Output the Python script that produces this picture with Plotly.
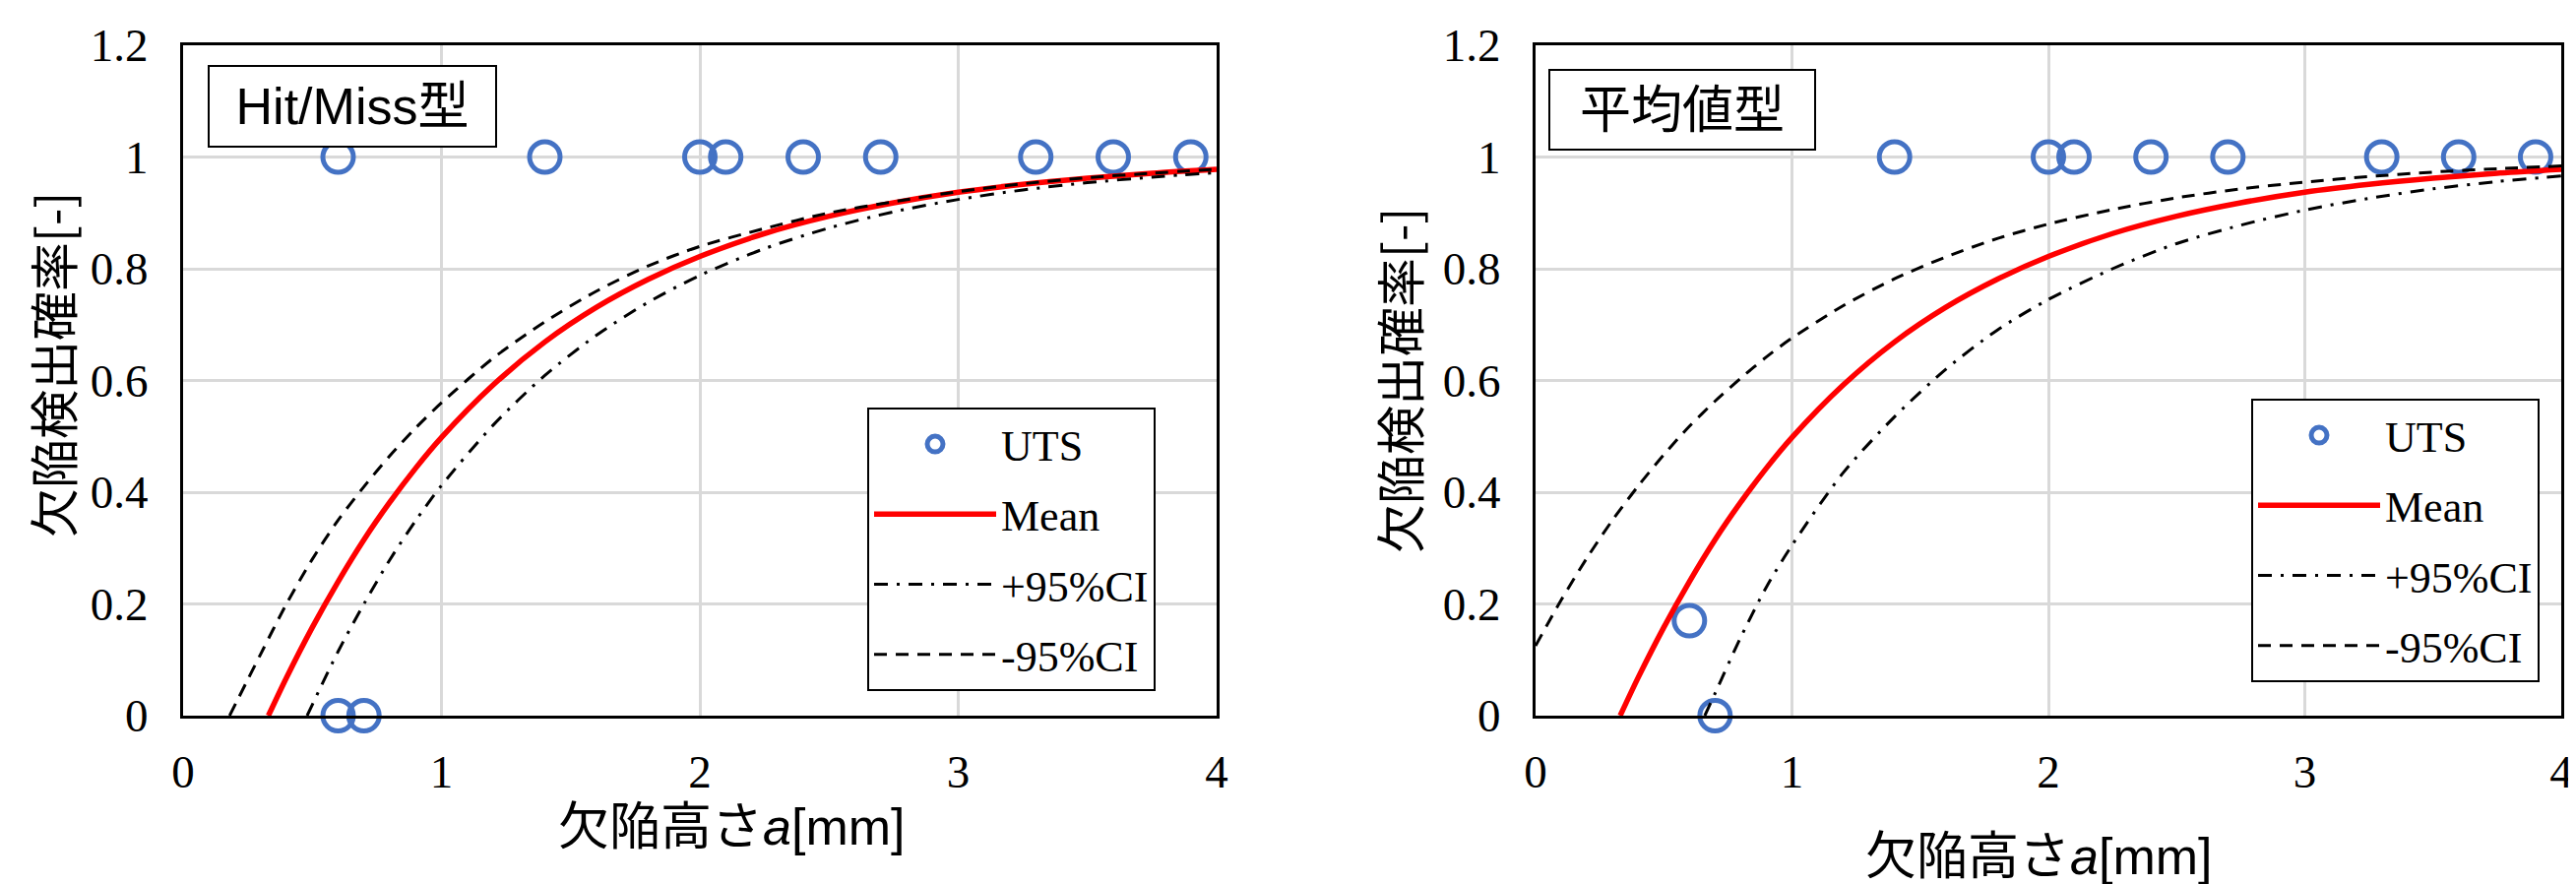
import plotly.graph_objects as go

# The page body has an 8px default margin, so the figure is laid out in
# reference-pixel coordinates shifted by OFF.
OFF = 8
W, H = 2617 - OFF, 898 - OFF


def PX(p):
    return (p - OFF) / W


def PY(p):
    return 1 - (p - OFF) / H


# ---------------- data ----------------
series_names = ["UTS", "Mean", "+95%CI", "-95%CI"]

# Hit/Miss panel
hm_uts_x = [0.6, 1.4, 2.0, 2.1, 2.4, 2.7, 3.3, 3.6, 3.9, 0.6, 0.7]
hm_uts_y = [1, 1, 1, 1, 1, 1, 1, 1, 1, 0, 0]

hm_mean_x = [0.33, 0.4, 0.5, 0.6, 0.7, 0.8, 0.9, 1.0, 1.2, 1.4, 1.6, 1.8, 2.0, 2.25, 2.5, 2.75, 3.0, 3.25, 3.5, 3.75, 4.0]
hm_mean_y = [0, 0.068, 0.158, 0.24, 0.315, 0.382, 0.443, 0.498, 0.592, 0.669, 0.731, 0.781, 0.822, 0.863, 0.894, 0.918, 0.937, 0.951, 0.962, 0.971, 0.978]

hm_plus_x = [0.48, 0.6, 0.7, 0.8, 0.9, 1.0, 1.2, 1.4, 1.6, 1.8, 2.0, 2.25, 2.5, 2.75, 3.0, 3.25, 3.5, 3.75, 4.0]
hm_plus_y = [0, 0.115, 0.2, 0.279, 0.349, 0.412, 0.52, 0.609, 0.681, 0.74, 0.788, 0.836, 0.873, 0.902, 0.924, 0.941, 0.954, 0.964, 0.972]

hm_minus_x = [0.18, 0.3, 0.4, 0.5, 0.6, 0.7, 0.8, 0.9, 1.0, 1.2, 1.4, 1.6, 1.8, 2.0, 2.25, 2.5, 2.75, 3.0, 3.25, 3.5, 3.75, 4.0]
hm_minus_y = [0, 0.11, 0.2, 0.28, 0.35, 0.41, 0.465, 0.515, 0.56, 0.64, 0.705, 0.76, 0.805, 0.84, 0.872, 0.9, 0.92, 0.938, 0.952, 0.963, 0.971, 0.978]

# Mean-value panel
av_uts_x = [1.4, 2.0, 2.1, 2.4, 2.7, 3.3, 3.6, 3.9, 0.6, 0.7]
av_uts_y = [1, 1, 1, 1, 1, 1, 1, 1, 0.17, 0]

av_mean_x = [0.33, 0.4, 0.5, 0.6, 0.7, 0.8, 0.9, 1.0, 1.2, 1.4, 1.6, 1.8, 2.0, 2.25, 2.5, 2.75, 3.0, 3.25, 3.5, 3.75, 4.0]
av_mean_y = [0, 0.068, 0.158, 0.24, 0.315, 0.382, 0.443, 0.498, 0.592, 0.669, 0.731, 0.781, 0.822, 0.863, 0.894, 0.918, 0.937, 0.951, 0.962, 0.971, 0.978]

av_plus_x = [0.66, 0.7, 0.8, 0.9, 1.0, 1.2, 1.4, 1.6, 1.8, 2.0, 2.25, 2.5, 2.75, 3.0, 3.25, 3.5, 3.75, 4.0]
av_plus_y = [0, 0.04, 0.14, 0.23, 0.305, 0.435, 0.535, 0.62, 0.69, 0.745, 0.8, 0.845, 0.878, 0.905, 0.926, 0.943, 0.956, 0.966]

av_minus_x = [0, 0.1, 0.2, 0.3, 0.4, 0.5, 0.6, 0.7, 0.8, 0.9, 1.0, 1.2, 1.4, 1.6, 1.8, 2.0, 2.25, 2.5, 2.75, 3.0, 3.25, 3.5, 3.75, 4.0]
av_minus_y = [0.125, 0.207, 0.282, 0.35, 0.411, 0.467, 0.518, 0.563, 0.604, 0.642, 0.676, 0.734, 0.782, 0.821, 0.854, 0.88, 0.906, 0.927, 0.943, 0.955, 0.965, 0.973, 0.979, 0.984]

panel_labels = ["Hit/Miss型", "平均値型"]
x_title = "欠陥高さ<i>a</i>[mm]"
y_title = "欠陥検出確率[-]"

# ---------------- styling ----------------
BLUE = "#4472C4"
RED = "#FF0000"
SERIF = "Liberation Serif, Times New Roman, serif"
SANS = "Liberation Sans, Arial, Noto Sans CJK JP, sans-serif"
CJK = "Noto Sans CJK JP, sans-serif"

fig = go.Figure()

panels = [
    ("x", "y", "legend", hm_uts_x, hm_uts_y, hm_mean_x, hm_mean_y, hm_plus_x, hm_plus_y, hm_minus_x, hm_minus_y),
    ("x2", "y2", "legend2", av_uts_x, av_uts_y, av_mean_x, av_mean_y, av_plus_x, av_plus_y, av_minus_x, av_minus_y),
]

for i, (xa, ya, lg, ux, uy, mx, my, px, py, nx, ny) in enumerate(panels):
    fig.add_trace(go.Scatter(
        x=ux, y=uy, mode="markers", name=series_names[0], xaxis=xa, yaxis=ya,
        legend=lg, legendgroup=f"{lg}a", cliponaxis=False,
        marker=dict(symbol="circle-open", size=31, color=BLUE, line=dict(width=5, color=BLUE)),
    ))
    fig.add_trace(go.Scatter(
        x=mx, y=my, mode="lines", name=series_names[1], xaxis=xa, yaxis=ya,
        legend=lg, legendgroup=f"{lg}b", line=dict(color=RED, width=5.5, shape="spline", smoothing=0.8),
    ))
    fig.add_trace(go.Scatter(
        x=px, y=py, mode="lines", name=series_names[2], xaxis=xa, yaxis=ya,
        legend=lg, legendgroup=f"{lg}c",
        line=dict(color="black", width=3, dash="14px,9px,3px,9px", shape="spline", smoothing=0.8),
    ))
    fig.add_trace(go.Scatter(
        x=nx, y=ny, mode="lines", name=series_names[3], xaxis=xa, yaxis=ya,
        legend=lg, legendgroup=f"{lg}d",
        line=dict(color="black", width=3, dash="13px,9px", shape="spline", smoothing=0.8),
    ))

ydom = [PY(727), PY(46)]
axis_common = dict(
    showline=True, mirror=True, linecolor="black", linewidth=3,
    showgrid=True, gridcolor="#D9D9D9", gridwidth=2.5,
    zeroline=False, ticks="", automargin=False,
    tickfont=dict(family=SERIF, size=47, color="black"),
)
fig.update_layout(
    xaxis=dict(domain=[PX(186), PX(1236)], range=[0, 4], dtick=1, anchor="y",
               ticklabelstandoff=14, **axis_common),
    yaxis=dict(domain=ydom, range=[0, 1.2], dtick=0.2, anchor="x",
               ticklabelstandoff=23, **axis_common),
    xaxis2=dict(domain=[PX(1560), PX(2602)], range=[0, 4], dtick=1, anchor="y2",
                ticklabelstandoff=14, **axis_common),
    yaxis2=dict(domain=ydom, range=[0, 1.2], dtick=0.2, anchor="x2",
                ticklabelstandoff=23, **axis_common),
)

legend_common = dict(
    xanchor="left", yanchor="top", bgcolor="white", bordercolor="black", borderwidth=2,
    font=dict(family=SERIF, size=44, color="black"), itemwidth=124,
    traceorder="grouped", tracegroupgap=11, itemsizing="trace",
)
fig.update_layout(
    legend=dict(x=PX(881), y=PY(414), **legend_common),
    legend2=dict(x=PX(2287), y=PY(405), **legend_common),
)

annotations = [
    # panel labels
    dict(text=panel_labels[0], cx=358, cy=108, width=290, height=80),
    dict(text=panel_labels[1], cx=1709, cy=111.5, width=268, height=79),
]
anns = []
for a in annotations:
    anns.append(dict(
        text=a["text"], xref="paper", yref="paper", x=PX(a["cx"]), y=PY(a["cy"]),
        xanchor="center", yanchor="middle", showarrow=False,
        width=a["width"], height=a["height"], align="center", valign="middle",
        bordercolor="black", borderwidth=2, borderpad=0, bgcolor="white",
        font=dict(family=SANS, size=52, color="black"),
    ))
# axis titles
for (cx, cy) in [(743, 840), (2071, 870)]:
    anns.append(dict(text=x_title, xref="paper", yref="paper", x=PX(cx), y=PY(cy),
                     xanchor="center", yanchor="middle", showarrow=False,
                     font=dict(family=SANS, size=52, color="black")))
for (cx, cy) in [(52, 371), (1420, 387)]:
    anns.append(dict(text=y_title, xref="paper", yref="paper", x=PX(cx), y=PY(cy),
                     xanchor="center", yanchor="middle", showarrow=False, textangle=-90,
                     font=dict(family=CJK, size=50, color="black")))

fig.update_layout(
    annotations=anns,
    width=W, height=H, autosize=False,
    margin=dict(l=0, r=0, t=0, b=0, pad=0),
    paper_bgcolor="white", plot_bgcolor="white",
)

fig.write_html("out.html", config={"displayModeBar": False})
